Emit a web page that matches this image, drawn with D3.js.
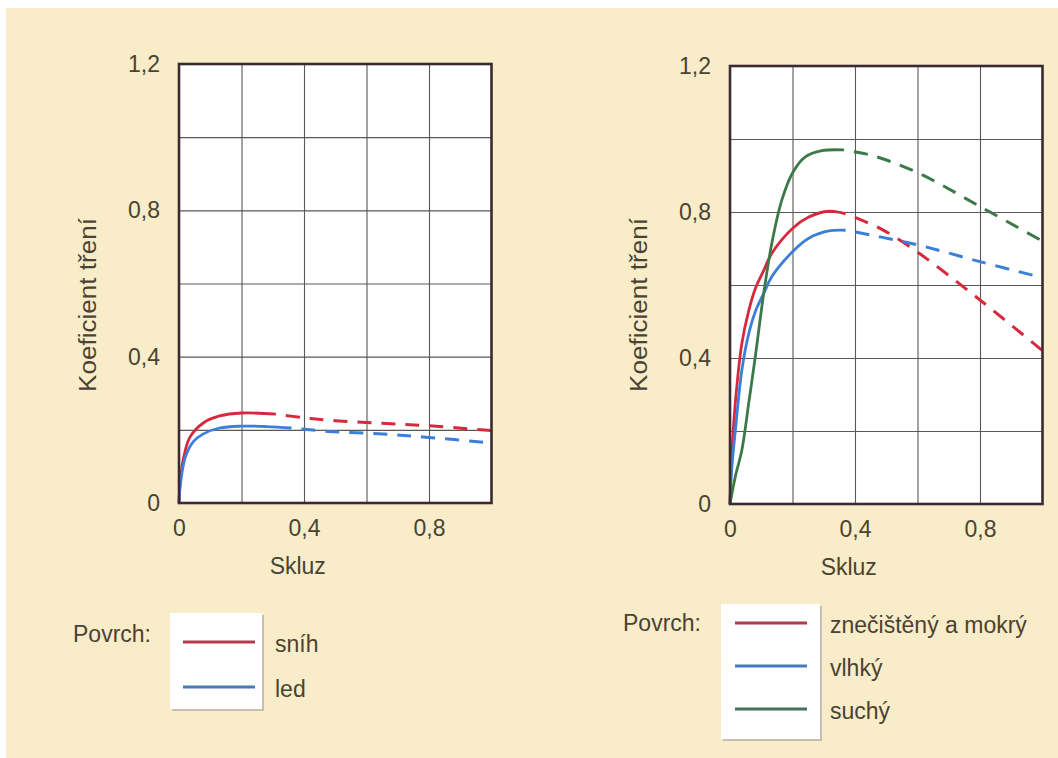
<!DOCTYPE html>
<html>
<head>
<meta charset="utf-8">
<script src="https://cdn.jsdelivr.net/npm/d3@7"></script>
<style>
  body { margin: 0; background: #fff; }
  text { font-family: "Liberation Sans", Arial, sans-serif; fill: #4a4232; }
</style>
</head>
<body>
<svg id="chart" width="1058" height="758"></svg>
<script>

// tick labels
var yTicks = [0, 0.4, 0.8, 1.2];
var xTicks = [0, 0.4, 0.8];

// left chart: sníh / led
var snowX = [0, 0.005, 0.015, 0.035, 0.08, 0.13, 0.2, 0.31];
var snowY = [0, 0.07, 0.125, 0.18, 0.22, 0.238, 0.246, 0.243];
var snowDashX = [0.31, 0.4, 0.5, 0.65, 0.8, 1.0];
var snowDashY = [0.243, 0.233, 0.225, 0.218, 0.211, 0.198];

var iceX = [0, 0.003, 0.02, 0.046, 0.078, 0.13, 0.2, 0.28, 0.36];
var iceY = [0, 0.04, 0.125, 0.168, 0.189, 0.205, 0.21, 0.209, 0.205];
var iceDashX = [0.36, 0.49, 0.64, 0.79, 1.0];
var iceDashY = [0.205, 0.195, 0.189, 0.18, 0.164];

// right chart: znečištěný a mokrý / vlhký / suchý
var wetX = [0, 0.005, 0.017, 0.038, 0.06, 0.081, 0.108, 0.134, 0.2, 0.252, 0.316, 0.37];
var wetY = [0, 0.12, 0.277, 0.44, 0.53, 0.59, 0.64, 0.687, 0.755, 0.786, 0.802, 0.795];
var wetDashX = [0.37, 0.48, 0.6, 0.8, 1.0];
var wetDashY = [0.795, 0.755, 0.69, 0.559, 0.42];

var dampX = [0, 0.005, 0.017, 0.038, 0.06, 0.081, 0.108, 0.134, 0.2, 0.252, 0.316, 0.37];
var dampY = [0, 0.09, 0.2, 0.367, 0.467, 0.527, 0.577, 0.623, 0.691, 0.728, 0.748, 0.75];
var dampDashX = [0.37, 0.45, 0.6, 0.8, 1.0];
var dampDashY = [0.75, 0.737, 0.71, 0.664, 0.62];

var dryX = [0, 0.017, 0.038, 0.06, 0.081, 0.108, 0.134, 0.166, 0.2, 0.241, 0.294, 0.365];
var dryY = [0, 0.075, 0.148, 0.277, 0.404, 0.578, 0.715, 0.833, 0.907, 0.951, 0.968, 0.97];
var dryDashX = [0.365, 0.45, 0.6, 0.8, 1.0];
var dryDashY = [0.969, 0.956, 0.908, 0.815, 0.72];

function pts(xs, ys) {
  return xs.map(function(d, i) { return [d, ys[i]]; });
}

var leftSeries = [
  {name: "sníh", color: "#d8283e", legend: "#b23a4c", solid: pts(snowX, snowY), dashed: pts(snowDashX, snowDashY)},
  {name: "led", color: "#3b7fd8", legend: "#4a78bc", solid: pts(iceX, iceY), dashed: pts(iceDashX, iceDashY)}
];

var rightSeries = [
  {name: "znečištěný a mokrý", color: "#d8283e", legend: "#b23a4c", solid: pts(wetX, wetY), dashed: pts(wetDashX, wetDashY)},
  {name: "vlhký", color: "#3b7fd8", legend: "#4a78bc", solid: pts(dampX, dampY), dashed: pts(dampDashX, dampDashY)},
  {name: "suchý", color: "#3b7a48", legend: "#42705a", solid: pts(dryX, dryY), dashed: pts(dryDashX, dryDashY)}
];

var svg = d3.select("#chart");

svg.append("rect").attr("x", 6).attr("y", 8).attr("width", 1052).attr("height", 750).attr("fill", "#f9ecc9");

var fmt = d3.formatLocale({decimal: ",", thousands: " ", grouping: [3], currency: ["", ""]}).format(".1~f");

function drawPanel(p, series) {
  var g = svg.append("g");
  var h = p.bottom - p.top;

  var x = d3.scaleLinear().domain([0, 1]).range([p.left, p.left + p.width]);
  var y = d3.scaleLinear().domain([0, 1.2]).range([p.bottom, p.top]);

  g.append("rect")
      .attr("x", p.left).attr("y", p.top)
      .attr("width", p.width).attr("height", h)
      .attr("fill", "#fff");

  // grid
  var gx = g.append("g")
      .attr("transform", "translate(0," + p.bottom + ")")
      .call(d3.axisBottom(x).tickValues(d3.range(0.2, 0.99, 0.2)).tickSize(-h).tickFormat(""));
  var gy = g.append("g")
      .attr("transform", "translate(" + p.left + ",0)")
      .call(d3.axisLeft(y).tickValues(d3.range(0.2, 1.19, 0.2)).tickSize(-p.width).tickFormat(""));
  [gx, gy].forEach(function(a) {
    a.select(".domain").remove();
    a.selectAll("line").attr("stroke", "#5c5656").attr("stroke-width", 1.1);
  });

  var line = d3.line()
      .x(function(d) { return x(d[0]); })
      .y(function(d) { return y(d[1]); })
      .curve(d3.curveCatmullRom.alpha(0.5));

  series.forEach(function(s) {
    g.append("path")
        .attr("d", line(s.dashed))
        .attr("fill", "none")
        .attr("stroke", s.color)
        .attr("stroke-width", 3)
        .attr("stroke-dasharray", "14,10")
        .attr("stroke-dashoffset", 14);
    g.append("path")
        .attr("d", line(s.solid))
        .attr("fill", "none")
        .attr("stroke", s.color)
        .attr("stroke-width", 2.8);
  });

  g.append("rect")
      .attr("x", p.left).attr("y", p.top)
      .attr("width", p.width).attr("height", h)
      .attr("fill", "none")
      .attr("stroke", "#3b2a32")
      .attr("stroke-width", 2.6);

  // tick labels
  var ly = g.append("g")
      .attr("transform", "translate(" + p.left + ",0)")
      .attr("color", "#4a4232")
      .call(d3.axisLeft(y).tickValues(yTicks).tickSize(0).tickPadding(19).tickFormat(fmt));
  var lx = g.append("g")
      .attr("transform", "translate(0," + p.bottom + ")")
      .attr("color", "#4a4232")
      .call(d3.axisBottom(x).tickValues(xTicks).tickSize(0).tickPadding(17).tickFormat(fmt));
  [lx, ly].forEach(function(a) {
    a.select(".domain").remove();
    a.selectAll("text").attr("font-size", 23).attr("font-family", "Liberation Sans, Arial, sans-serif");
  });

  g.append("text")
      .attr("x", x(0.38)).attr("y", p.bottom + 71)
      .attr("text-anchor", "middle")
      .attr("font-size", 23)
      .text("Skluz");

  g.append("text")
      .attr("transform", "translate(" + (p.left - 91) + "," + 305 + ") rotate(-90)")
      .attr("text-anchor", "middle")
      .attr("dy", "0.36em")
      .attr("font-size", 23)
      .attr("textLength", 174)
      .attr("lengthAdjust", "spacingAndGlyphs")
      .text("Koeficient tření");
}

function drawLegend(L, series) {
  var g = svg.append("g");
  g.append("text")
      .attr("x", L.titleX).attr("y", L.titleY)
      .attr("font-size", 23)
      .text("Povrch:");
  // shadow + box
  g.append("rect")
      .attr("x", L.boxX + 2).attr("y", L.boxY + 2)
      .attr("width", L.boxW).attr("height", L.boxH)
      .attr("fill", "#c9bfb0");
  g.append("rect")
      .attr("x", L.boxX).attr("y", L.boxY)
      .attr("width", L.boxW).attr("height", L.boxH)
      .attr("fill", "#fff");
  series.forEach(function(s, i) {
    var yy = L.firstY + i * L.step;
    g.append("line")
        .attr("x1", L.lineX1).attr("x2", L.lineX2)
        .attr("y1", yy).attr("y2", yy)
        .attr("stroke", s.legend)
        .attr("stroke-width", 3);
    g.append("text")
        .attr("x", L.labelX).attr("y", yy + 10)
        .attr("font-size", 23)
        .text(s.name);
  });
}

drawPanel({left: 179, top: 64, bottom: 503, width: 312.5}, leftSeries);
drawPanel({left: 730, top: 66, bottom: 504, width: 312.5}, rightSeries);

drawLegend({titleX: 73, titleY: 642, boxX: 170, boxY: 613, boxW: 92, boxH: 96,
            lineX1: 183, lineX2: 255, firstY: 642, step: 45, labelX: 275}, leftSeries);
drawLegend({titleX: 623, titleY: 631, boxX: 721, boxY: 604, boxW: 99, boxH: 135,
            lineX1: 735, lineX2: 807, firstY: 623, step: 43, labelX: 830}, rightSeries);

</script>
</body>
</html>
